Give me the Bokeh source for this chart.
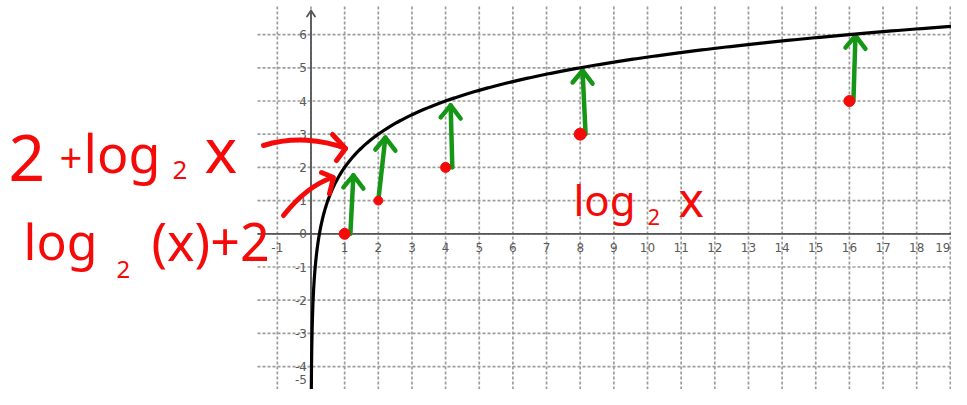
import numpy as np
from bokeh.plotting import figure
from bokeh.core.properties import value
from bokeh.embed import file_html
from bokeh.resources import INLINE

# ---------------- data ----------------
x_ticks = list(range(-1, 20))
y_ticks = list(range(-5, 7))
x_tick_labels = [str(t) for t in x_ticks]
y_tick_labels = [str(t) for t in y_ticks]

pts_x = [1, 2, 4, 8, 16]          # points of log2(x)
pts_y = [0, 1, 2, 3, 4]
shift = 2                          # vertical shift: log2(x) + 2

label_top = ["2", "+", "log", "2", "x"]          # 2 + log₂x
label_mid = ["log", "2", "(x)+2"]                # log₂(x)+2
label_low = ["log", "2", "x"]                    # log₂x

# ---------------- pixel helpers (reference image coordinates) ----------------
SX, SY = 33.65, 33.2
def X(px):
    return (px - 310.5) / SX
def Y(py):
    return (233.3 - py) / SY

RED = "#f50a0a"
GREEN = "#169616"
GRID = "#9c9c9c"
AXIS = "#555555"
LBL = "#5a5a5a"

W, H = 951, 389
p = figure(width=W, height=H, x_range=(X(0), X(W)), y_range=(Y(H), Y(0)),
           x_axis_type=None, y_axis_type=None, toolbar_location=None,
           output_backend="svg", min_border=0)
p.outline_line_color = None
p.background_fill_color = "white"

# ---------------- grid ----------------
ny, nx = len(y_ticks), len(x_ticks)
p.segment(x0=x_ticks, y0=[Y(H + 5)] * nx, x1=x_ticks, y1=[Y(4)] * nx,
          line_color=GRID, line_width=1.7, line_dash="3 2")
p.segment(x0=[X(257)] * ny, y0=y_ticks, x1=[X(W + 5)] * ny, y1=y_ticks,
          line_color=GRID, line_width=1.7, line_dash="3 2")

# ---------------- axes ----------------
p.segment(x0=[X(257)], y0=[0], x1=[X(W + 5)], y1=[0], line_color=AXIS, line_width=1.8)
p.segment(x0=[0], y0=[Y(H + 5)], x1=[0], y1=[Y(11)], line_color=AXIS, line_width=1.8)
p.line(x=[-4 / SX, 0, 4 / SX], y=[Y(16), Y(10), Y(16)], line_color=AXIS,
       line_width=1.8, line_join="round", line_cap="round")

# x tick labels (the last one is kept inside the visible frame)
xmax_vis = X(W - 9)
xl_in = [(t, s) for t, s in zip(x_ticks, x_tick_labels) if t != 0 and t <= xmax_vis]
xl_edge = [(t, s) for t, s in zip(x_ticks, x_tick_labels) if t > xmax_vis]
p.text(x=[t for t, _ in xl_in], y=[Y(246.5)] * len(xl_in), text=[s for _, s in xl_in],
       text_align="center", text_baseline="middle", text_color=LBL,
       text_font=value("DejaVu Sans"), text_font_size="12px")
p.text(x=[X(W - 1)] * len(xl_edge), y=[Y(246.5)] * len(xl_edge), text=[s for _, s in xl_edge],
       text_align="right", text_baseline="middle", text_color=LBL,
       text_font=value("DejaVu Sans"), text_font_size="12px")

# y tick labels (the lowest one is kept inside the visible frame)
ymin_vis = Y(H - 10)
yl_in = [(t, s) for t, s in zip(y_ticks, y_tick_labels) if t >= ymin_vis]
yl_edge = [(t, s) for t, s in zip(y_ticks, y_tick_labels) if t < ymin_vis]
p.text(x=[X(306.5)] * len(yl_in), y=[t for t, _ in yl_in], text=[s for _, s in yl_in],
       text_align="right", text_baseline="middle", text_color=LBL,
       text_font=value("DejaVu Sans"), text_font_size="12px")
p.text(x=[X(306.5)] * len(yl_edge), y=[Y(H - 10)] * len(yl_edge), text=[s for _, s in yl_edge],
       text_align="right", text_baseline="middle", text_color=LBL,
       text_font=value("DejaVu Sans"), text_font_size="12px")

# ---------------- green shift arrows ----------------
arrow_dx0 = [0.17, 0.0, 0.2, 0.16, 0.12]
arrow_dx1 = [0.26, 0.21, 0.15, 0.07, 0.18]
arrow_gap = [0.24, 0.1, 0.13, 0.08, 0.03]
xs0 = [x + d for x, d in zip(pts_x, arrow_dx0)]
ys0 = list(pts_y)
xs1 = [x + d for x, d in zip(pts_x, arrow_dx1)]
ys1 = [y + shift - g for y, g in zip(pts_y, arrow_gap)]
p.segment(x0=xs0, y0=ys0, x1=xs1, y1=ys1, line_color=GREEN, line_width=4.5, line_cap="round")
wx, wy = 10 / SX, 12 / SY
p.multi_line(xs=[[a - wx, a, a + wx] for a in xs1], ys=[[b - wy, b, b - wy * 1.1] for b in ys1],
             line_color=GREEN, line_width=4.5, line_cap="round", line_join="round")

# ---------------- curve 2 + log2(x) ----------------
curve_x = np.geomspace(2 ** -7.4, 19.9, 800)
curve_y = shift + np.log2(curve_x)
p.line(curve_x, curve_y, line_color="black", line_width=3.2)

# ---------------- red points ----------------
dot_sizes = [11, 9, 10, 12, 11]
p.scatter(pts_x, pts_y, size=dot_sizes, fill_color=RED, line_color=RED)

# ---------------- red handwriting ----------------
def put(texts, lefts, bases, sizes):
    for t, lx, by, fs in zip(texts, lefts, bases, sizes):
        p.text(x=[X(lx)], y=[Y(by - 0.388 * fs)], text=[t], text_align="left",
               text_baseline="middle", text_color=RED,
               text_font=value("Noto Sans"), text_font_size=f"{fs}px")

put(label_top, [8, 59, 83, 172, 204], [182, 173, 172, 180, 173], [64, 40, 52, 26, 62])
put(label_mid, [23, 116, 151], [260, 278, 260], [50, 24, 52])
put(label_low, [573, 647, 678], [215, 225, 217], [42, 22, 48])

# red arrows pointing at the curve
p.bezier(x0=[X(263), X(283)], y0=[Y(145), Y(215)],
         x1=[X(345), X(332)], y1=[Y(148), Y(177)],
         cx0=[X(292), X(298)], cy0=[Y(136), Y(196)],
         cx1=[X(322), X(314)], cy1=[Y(139), Y(183)],
         line_color=RED, line_width=5, line_cap="round")
p.multi_line(xs=[[X(332), X(345), X(336)], [X(321), X(333), X(329)]],
             ys=[[Y(134), Y(148), Y(160)], [Y(172), Y(177), Y(193)]],
             line_color=RED, line_width=5, line_cap="round", line_join="round")

open("out.html", "w").write(file_html(p, INLINE))
